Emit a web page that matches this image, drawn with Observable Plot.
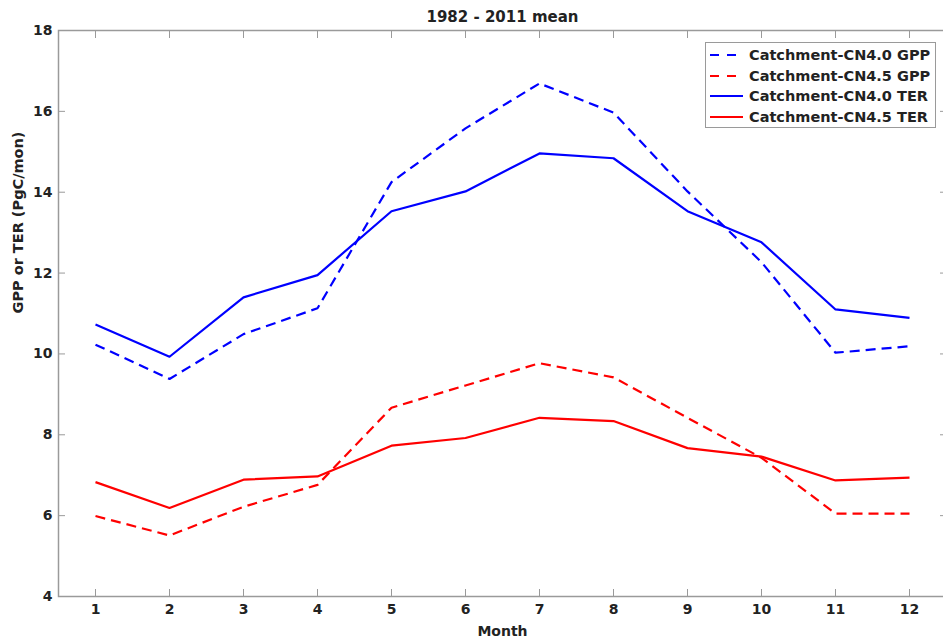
<!DOCTYPE html>
<html>
<head>
<meta charset="utf-8">
<script src="https://cdn.jsdelivr.net/npm/d3@7"></script>
<script src="https://cdn.jsdelivr.net/npm/@observablehq/plot@0.6"></script>
<style>
  html, body { margin: 0; padding: 0; background: #fff; }
  body { width: 943px; height: 640px; overflow: hidden; position: relative; font-family: "DejaVu Sans", sans-serif; }
  #chart svg { display: block; max-width: none !important; }
  #legend { position: absolute; left: 705px; top: 42px; width: 231px; height: 86px; box-sizing: border-box;
            border: 1px solid #9a9a9a; background: #fff; padding-top: 2px; }
  .row { height: 20.5px; display: flex; align-items: center; font-size: 14.5px; font-weight: bold; color: #222; white-space: nowrap; }
  .row svg { margin-left: 4px; margin-right: 6px; flex: none; }
</style>
</head>
<body>
<div id="chart"></div>
<div id="legend"></div>
<script>
const months = [1, 2, 3, 4, 5, 6, 7, 8, 9, 10, 11, 12];
const gppCN40 = [10.23, 9.38, 10.49, 11.13, 14.25, 15.58, 16.69, 15.97, 14.02, 12.27, 10.03, 10.19];
const gppCN45 = [5.99, 5.51, 6.22, 6.76, 8.67, 9.22, 9.77, 9.42, 8.42, 7.43, 6.05, 6.05];
const terCN40 = [10.73, 9.93, 11.40, 11.95, 13.53, 14.02, 14.96, 14.84, 13.53, 12.76, 11.10, 10.89];
const terCN45 = [6.83, 6.19, 6.89, 6.97, 7.73, 7.92, 8.42, 8.34, 7.67, 7.46, 6.87, 6.94];

const seriesNames = ["Catchment-CN4.0 GPP", "Catchment-CN4.5 GPP", "Catchment-CN4.0 TER", "Catchment-CN4.5 TER"];
const seriesValues = [gppCN40, gppCN45, terCN40, terCN45];
const seriesColors = ["#0000ff", "#ff0000", "#0000ff", "#ff0000"];
const seriesDashed = [true, true, false, false];

const yTicks = [4, 6, 8, 10, 12, 14, 16, 18];
const titleText = "1982 - 2011 mean";
const xLabel = "Month";
const yLabel = "GPP or TER (PgC/mon)";

const rows = [];
seriesNames.forEach((name, i) => {
  months.forEach((m, j) => rows.push({series: name, month: m, value: seriesValues[i][j], idx: i}));
});

const axisColor = "#9a9a9a";
const textColor = "#222";

const lineMarks = seriesNames.map((name, i) =>
  Plot.line(rows.filter(d => d.idx === i), {
    x: "month", y: "value",
    stroke: seriesColors[i], strokeWidth: 2.2,
    strokeDasharray: seriesDashed[i] ? "10,6" : null,
    strokeLinejoin: "round", strokeLinecap: "butt"
  })
);

const chart = Plot.plot({
  width: 946,
  height: 640,
  marginTop: 30,
  marginLeft: 58,
  marginRight: 0,
  marginBottom: 44,
  style: { fontFamily: "DejaVu Sans, sans-serif", fontSize: "14px", background: "#fff", color: textColor, maxWidth: "none" },
  x: { domain: [0.5, 12.5] },
  y: { domain: [4, 18] },
  marks: [
    // inward ticks
    Plot.axisX(months, { anchor: "bottom", tickSize: -7, tickFormat: () => "", stroke: axisColor, label: null }),
    Plot.axisX(months, { anchor: "top", tickSize: -7, tickFormat: () => "", stroke: axisColor, label: null }),
    Plot.axisY(yTicks, { anchor: "left", tickSize: -7, tickFormat: () => "", stroke: axisColor, label: null }),
    Plot.axisY(yTicks, { anchor: "right", tickSize: -7, tickFormat: () => "", stroke: axisColor, label: null }),
    // tick labels
    Plot.axisX(months, { anchor: "bottom", tickSize: 0, tickPadding: 8, fontWeight: "bold", fill: textColor, label: null }),
    Plot.axisY(yTicks, { anchor: "left", tickSize: 0, tickPadding: 6, fontWeight: "bold", fill: textColor, label: null }),
    Plot.frame({ stroke: axisColor, strokeWidth: 1.5 }),
    ...lineMarks,
    Plot.text([titleText], { frameAnchor: "top", dy: -13, fontSize: 15, fontWeight: "bold", fill: textColor, lineAnchor: "middle" }),
    Plot.text([xLabel], { frameAnchor: "bottom", dy: 35, fontSize: 14, fontWeight: "bold", fill: textColor, lineAnchor: "middle" }),
    Plot.text([yLabel], { frameAnchor: "left", dx: -40, rotate: -90, fontSize: 14.5, fontWeight: "bold", fill: textColor, lineAnchor: "middle" })
  ]
});
document.getElementById("chart").appendChild(chart);

// legend
const legend = document.getElementById("legend");
seriesNames.forEach((name, i) => {
  const row = document.createElement("div");
  row.className = "row";
  const sw = d3.create("svg").attr("width", 33).attr("height", 6);
  sw.append("line").attr("x1", 0).attr("x2", 33).attr("y1", 3).attr("y2", 3)
    .attr("stroke", seriesColors[i]).attr("stroke-width", 2.2)
    .attr("stroke-dasharray", seriesDashed[i] ? "9,8" : null);
  row.appendChild(sw.node());
  const span = document.createElement("span");
  span.textContent = name;
  row.appendChild(span);
  legend.appendChild(row);
});
</script>
</body>
</html>
